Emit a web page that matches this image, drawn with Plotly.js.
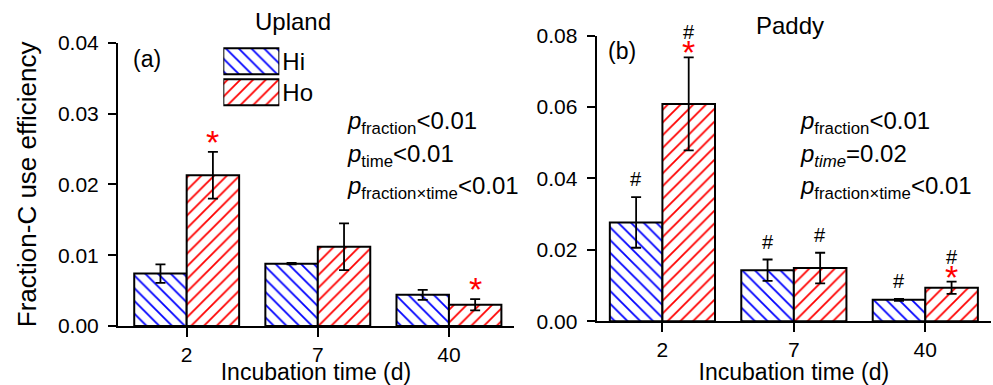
<!DOCTYPE html>
<html>
<head>
<meta charset="utf-8">
<script src="https://cdn.plot.ly/plotly-3.0.1.min.js"></script>
<style>html,body{margin:0;padding:0;background:#fff;}#chart{width:993px;height:385px;}</style>
</head>
<body>
<div id="chart"></div>
<script>
// ---------- data ----------
const categories = ['2', '7', '40'];
const seriesNames = ['Hi', 'Ho'];
const uplandHi = [0.0074, 0.0088, 0.0044];
const uplandHiErr = [0.0013, 0.0001, 0.0007];
const uplandHo = [0.0213, 0.0112, 0.0030];
const uplandHoErr = [0.0033, 0.0033, 0.0008];
const paddyHi = [0.0277, 0.0143, 0.0060];
const paddyHiErr = [0.0071, 0.0030, 0.0003];
const paddyHo = [0.0609, 0.0149, 0.0094];
const paddyHoErr = [0.0130, 0.0043, 0.0017];
// significance marks
const uplandHiStar = ['', '', ''];
const uplandHoStar = ['*', '', '*'];
const paddyHiStar = ['', '', ''];
const paddyHoStar = ['*', '', '*'];
const paddyHiHash = ['#', '#', '#'];
const paddyHoHash = ['#', '#', '#'];
const uplandHiHash = ['', '', ''];
const uplandHoHash = ['', '', ''];
const panelTitles = ['Upland', 'Paddy'];
const panelLabels = ['(a)', '(b)'];
const yTitle = 'Fraction-C use efficiency';
const xTitle = 'Incubation time (d)';
const pUpland = ['<i>p</i><sub>fraction</sub>&lt;0.01', '<i>p</i><sub>time</sub>&lt;0.01', '<i>p</i><sub>fraction×time</sub>&lt;0.01'];
const pPaddy = ['<i>p</i><sub>fraction</sub>&lt;0.01', '<i>p</i><sub><i>time</i></sub>=0.02', '<i>p</i><sub>fraction×time</sub>&lt;0.01'];

// ---------- style ----------
const FONT = 'Liberation Sans, Arial, Helvetica, sans-serif';
const colors = {Hi: '#0000ff', Ho: '#ff0000'};
const shapes = {Hi: '\\', Ho: '/'};
function pattern(name) {
  return {shape: shapes[name], fgcolor: colors[name], bgcolor: 'white', size: 9, solidity: 0.2, fillmode: 'replace'};
}
function barTrace(name, vals, errs, xa, ya) {
  return {
    type: 'bar', name: name, x: categories, y: vals, xaxis: xa, yaxis: ya,
    marker: {color: 'white', line: {color: 'black', width: 2}, pattern: pattern(name)},
    error_y: {type: 'data', array: errs, visible: true, color: 'black', thickness: 1.8, width: 5},
    showlegend: false, hoverinfo: 'skip'
  };
}
const traces = [
  barTrace('Hi', uplandHi, uplandHiErr, 'x', 'y'),
  barTrace('Ho', uplandHo, uplandHoErr, 'x', 'y'),
  barTrace('Hi', paddyHi, paddyHiErr, 'x2', 'y2'),
  barTrace('Ho', paddyHo, paddyHoErr, 'x2', 'y2'),
  // legend boxes
  {
    type: 'bar', orientation: 'h', y: seriesNames, x: seriesNames.map(() => 1), width: 0.84,
    xaxis: 'x3', yaxis: 'y3', cliponaxis: false,
    marker: {color: 'white', line: {color: 'black', width: 2},
      pattern: {shape: seriesNames.map(n => shapes[n]), fgcolor: seriesNames.map(n => colors[n]),
        bgcolor: 'white', size: 9, solidity: 0.2, fillmode: 'replace'}},
    showlegend: false, hoverinfo: 'skip'
  }
];

// ---------- annotations ----------
const annotations = [];
const OFF = 0.2; // bar centre offset within a group (bargap 0.2, two bars)
function addMarks(xref, yref, vals, errs, stars, hashes, dx, starGap) {
  vals.forEach((v, i) => {
    const top = v + errs[i];
    let hashShift = 18;
    if (stars[i]) {
      annotations.push({xref: xref, yref: yref, x: i + dx, y: top, text: stars[i], showarrow: false,
        yanchor: 'middle', yshift: starGap, font: {family: FONT, size: 34, color: '#ff0000'}});
      hashShift = starGap + 20;
    }
    if (hashes[i]) {
      annotations.push({xref: xref, yref: yref, x: i + dx, y: top, text: hashes[i], showarrow: false,
        yanchor: 'middle', yshift: hashShift, font: {family: FONT, size: 20, color: 'black'}});
    }
  });
}
addMarks('x', 'y', uplandHi, uplandHiErr, uplandHiStar, uplandHiHash, -OFF, 10);
addMarks('x', 'y', uplandHo, uplandHoErr, uplandHoStar, uplandHoHash, OFF, 10);
addMarks('x2', 'y2', paddyHi, paddyHiErr, paddyHiStar, paddyHiHash, -OFF, 5);
addMarks('x2', 'y2', paddyHo, paddyHoErr, paddyHoStar, paddyHoHash, OFF, 5);

function txt(x, y, text, size, anchor) {
  annotations.push({xref: 'paper', yref: 'paper', x: x, y: y, text: text, showarrow: false,
    xanchor: anchor || 'center', yanchor: 'middle', font: {family: FONT, size: size, color: 'black'}});
}
txt(0.295, 0.943, panelTitles[0], 24);
txt(0.7956, 0.935, panelTitles[1], 24);
txt(0.1485, 0.847, panelLabels[0], 23);
txt(0.6264, 0.8675, panelLabels[1], 23);
const pYs = [0.683, 0.597, 0.512];
pUpland.forEach((t, i) => txt(0.3474, pYs[i], t, 24, 'left'));
pPaddy.forEach((t, i) => txt(0.8036, pYs[i], t, 24, 'left'));

// ---------- axes ----------
const tickFont = {family: FONT, size: 21, color: 'black'};
function xAxis(domain, range, anchor) {
  return {domain: domain, range: range, type: 'category', anchor: anchor,
    showline: true, linecolor: 'black', linewidth: 2, showgrid: false, zeroline: false,
    ticks: 'outside', ticklen: 9, tickwidth: 2, tickcolor: 'black', tickfont: tickFont,
    title: {text: xTitle, font: {family: FONT, size: 23, color: 'black'}, standoff: 3},
    automargin: false, fixedrange: true};
}
function yAxis(domain, range, dtick, anchor, withTitle) {
  return {domain: domain, range: range, dtick: dtick, tick0: 0, anchor: anchor, tickformat: '.2f',
    showline: true, linecolor: 'black', linewidth: 2, showgrid: false, zeroline: false,
    ticks: 'outside', ticklen: 8, tickwidth: 2, tickcolor: 'black', tickfont: tickFont, ticklabelstandoff: 5,
    title: withTitle ? {text: yTitle, font: {family: FONT, size: 26, color: 'black'}, standoff: 14} : {text: ''},
    automargin: false, fixedrange: true};
}

const layout = {
  width: 993, height: 385,
  margin: {l: 0, r: 0, t: 0, b: 0},
  paper_bgcolor: 'white', plot_bgcolor: 'rgba(0,0,0,0)',
  font: {family: FONT, color: 'black'},
  barmode: 'group', bargap: 0.2, bargroupgap: 0,
  showlegend: false,
  xaxis: xAxis([0.1188, 0.5176], [-0.524, 2.496], 'y'),
  yaxis: yAxis([0.1532, 0.8891], [0, 0.04], 0.01, 'x', true),
  xaxis2: xAxis([0.6009, 0.998], [-0.5, 2.5], 'y2'),
  yaxis2: yAxis([0.1655, 0.9073], [0, 0.08], 0.02, 'x2', false),
  xaxis3: {domain: [0.2249, 0.2813], range: [0, 1], visible: false, anchor: 'y3', fixedrange: true},
  yaxis3: {domain: [0.72, 0.881], type: 'category', categoryarray: seriesNames, categoryorder: 'array',
    autorange: 'reversed', anchor: 'x3', side: 'right', showline: false, showgrid: false, zeroline: false,
    ticks: '', ticklabelstandoff: 2, tickfont: {family: FONT, size: 24, color: 'black'}, fixedrange: true},
  annotations: annotations
};

Plotly.newPlot('chart', traces, layout, {staticPlot: true, displayModeBar: false});
</script>
</body>
</html>
